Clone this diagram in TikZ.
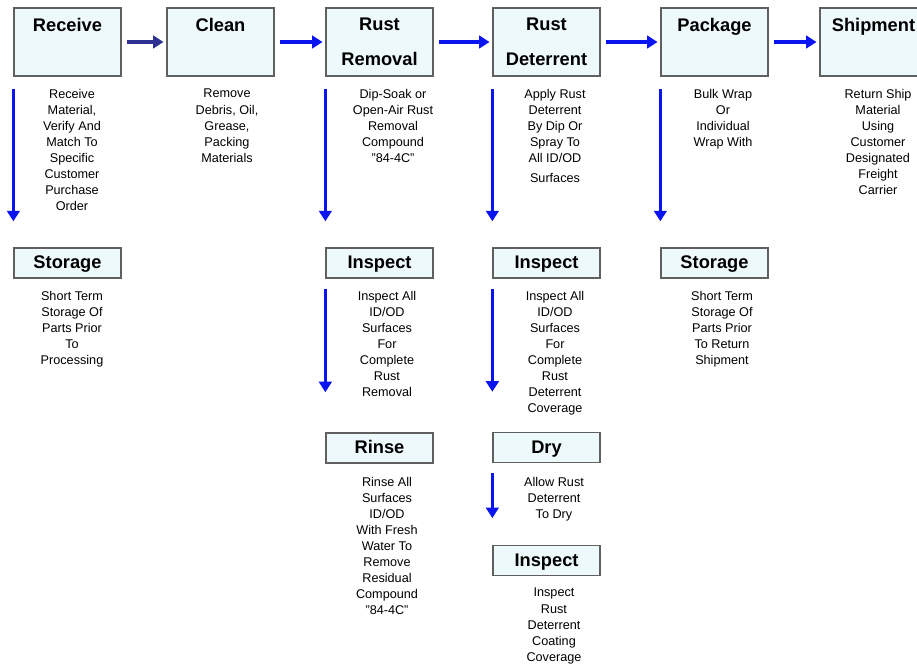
\documentclass[tikz,border=0pt]{standalone}
\usepackage{fontspec}
\setmainfont{Liberation Sans}
\usetikzlibrary{arrows.meta}
\definecolor{boxfill}{RGB}{238,249,251}
\definecolor{navyarrow}{RGB}{46,49,146}
\definecolor{bluearrow}{RGB}{10,20,240}
\begin{document}
\begin{tikzpicture}[x=0.025cm, y=-0.025cm,
    stage/.style = {draw=gray!75!black, line width=1pt, fill=boxfill, inner sep=0pt,
                    minimum width=76pt, minimum height=48.4pt, align=center,
                    font=\bfseries\fontsize{13}{25}\selectfont},
    substage/.style = {stage, minimum height=21.3pt, text height=8pt, text depth=0pt},
    note/.style = {anchor=north, inner sep=0pt, align=center,
                   font=\fontsize{9}{11.4}\selectfont},
    flow/.style = {-{Triangle[length=7.5pt,width=9pt]}, line width=2.2pt, draw=bluearrow},
    hflow/.style = {flow, shorten <=4pt, shorten >=2pt},
    vflow/.style = {flow, shorten <=9pt, shorten >=18.5pt}]
    \useasboundingbox (0,0) rectangle (917,666);

    % main stages
    \node[stage] at (67.5, 42) (receive) {Receive\\~};
    \node[stage] at (220.5, 42) (clean) {Clean\\~};
    \node[stage] at (379.5, 42) (rustrem) {Rust\\Removal};
    \node[stage] at (546.5, 42) (rustdet) {Rust\\Deterrent};
    \node[stage] at (714.5, 42) (package) {Package\\~};
    \node[stage] at (873.5, 42) (shipment) {Shipment\\~};

    \draw [hflow, draw=navyarrow] (receive) -- (clean);
    \draw [hflow] (clean) -- (rustrem);
    \draw [hflow] (rustrem) -- (rustdet);
    \draw [hflow] (rustdet) -- (package);
    \draw [hflow] (package) -- (shipment);

    \node[note] at (72, 89) (receivetxt) {Receive\\Material,\\Verify And\\Match To\\Specific\\Customer\\Purchase\\Order};
    \node[note] at (227, 89) (cleantxt) {Remove\\Debris, Oil,\\Grease,\\Packing\\Materials};
    \node[note] at (393, 89) (rustremtxt) {Dip-Soak or\\Open-Air Rust\\Removal\\Compound\\"84-4C"};
    \node[note] at (555, 89) (rustdettxt) {Apply Rust\\Deterrent\\By Dip Or\\Spray To\\All ID/OD\\[2.5pt]Surfaces};
    \node[note] at (723, 89) (packagetxt) {Bulk Wrap\\Or\\Individual\\Wrap With};
    \node[note] at (878, 89) (shipmenttxt) {Return Ship\\Material\\Using\\Customer\\Designated\\Freight\\Carrier};

    % sub stages
    \node[substage] at (67.5, 263) (storein) {Storage};
    \node[substage] at (379.5, 263) (inspremoval) {Inspect};
    \node[substage] at (546.5, 263) (inspdeterrent) {Inspect};
    \node[substage] at (714.5, 263) (storeout) {Storage};
    \node[substage] at (379.5, 448) (rinse) {Rinse};
    \node[substage] at (546.5, 447.5) (dry) {Dry};
    \node[substage] at (546.5, 560.5) (inspcoating) {Inspect};

    \draw [vflow] (receive.south west) -- (storein.north west);
    \draw [vflow] (rustrem.south west) -- (inspremoval.north west);
    \draw [vflow] (rustdet.south west) -- (inspdeterrent.north west);
    \draw [vflow] (package.south west) -- (storeout.north west);
    \draw [flow, shorten <=7pt, shorten >=28.5pt] (inspremoval.south west) -- (rinse.north west);
    \draw [flow, shorten <=7pt, shorten >=28.5pt] (inspdeterrent.south west) -- (dry.north west);
    \draw [flow, shorten <=7pt, shorten >=19pt] (dry.south west) -- (inspcoating.north west);

    \node[note] at (72, 291) (storeintxt) {Short Term\\Storage Of\\Parts Prior\\To\\Processing};
    \node[note] at (387, 291) (inspremovaltxt) {Inspect All\\ID/OD\\Surfaces\\For\\Complete\\Rust\\Removal};
    \node[note] at (555, 291) (inspdeterrenttxt) {Inspect All\\ID/OD\\Surfaces\\For\\Complete\\Rust\\Deterrent\\Coverage};
    \node[note] at (722, 291) (storeouttxt) {Short Term\\Storage Of\\Parts Prior\\To Return\\Shipment};
    \node[note] at (387, 477) (rinsetxt) {Rinse All\\Surfaces\\ID/OD\\With Fresh\\Water To\\Remove\\Residual\\Compound\\"84-4C"};
    \node[note] at (554, 477) (drytxt) {Allow Rust\\Deterrent\\To Dry};
    \node[note] at (554, 588) (inspcoatingtxt) {Inspect\\Rust\\Deterrent\\Coating\\Coverage};
\end{tikzpicture}
\end{document}
